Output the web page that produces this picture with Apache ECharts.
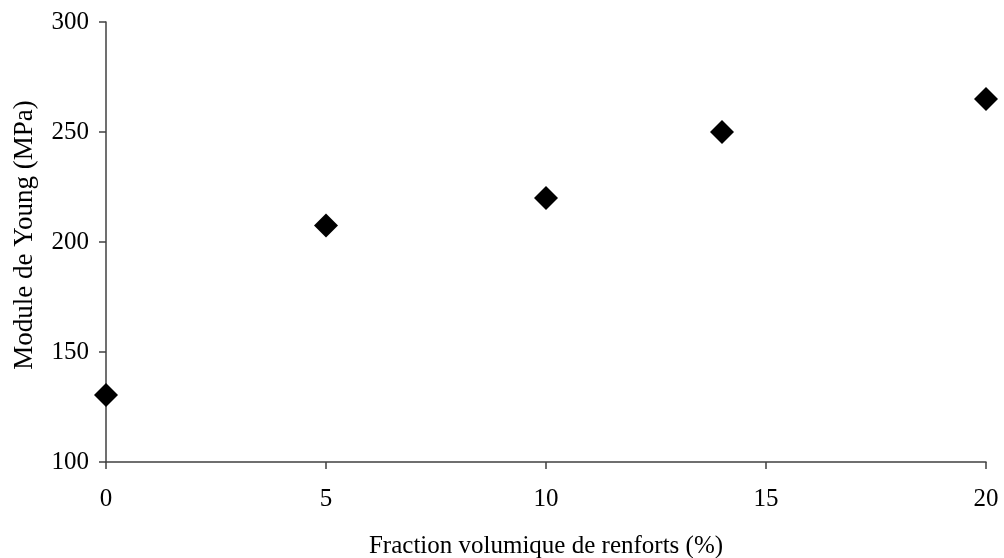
<!DOCTYPE html>
<html>
<head>
<meta charset="utf-8">
<script src="https://cdn.jsdelivr.net/npm/echarts@6/dist/echarts.min.js"></script>
<style>
html,body{margin:0;padding:0;background:#fff;}
#c{width:1004px;height:558px;}
</style>
</head>
<body>
<div id="c"></div>
<script>
const fractions = [0, 5, 10, 14, 20];
const youngModulus = [130.5, 207.5, 220, 250, 265];
const xTitle = 'Fraction volumique de renforts (%)';
const yTitle = 'Module de Young (MPa)';

const font = 'Liberation Serif';
const chart = echarts.init(document.getElementById('c'));
chart.setOption({
  animation: false,
  backgroundColor: '#ffffff',
  grid: {left: 106, right: 18, top: 22, bottom: 96, containLabel: false, outerBoundsMode: 'none'},
  xAxis: {
    type: 'value', min: 0, max: 20, interval: 5,
    name: xTitle, nameLocation: 'middle', nameGap: 72,
    nameTextStyle: {fontFamily: font, fontSize: 25, color: '#000'},
    axisLine: {lineStyle: {color: '#404040', width: 1.5}},
    axisTick: {show: true, inside: false, length: 7, lineStyle: {color: '#404040', width: 1.5}},
    axisLabel: {fontFamily: font, fontSize: 25, color: '#000', margin: 25},
    splitLine: {show: false}
  },
  yAxis: {
    type: 'value', min: 100, max: 300, interval: 50,
    name: yTitle, nameLocation: 'middle', nameGap: 68,
    nameTextStyle: {fontFamily: font, fontSize: 27, color: '#000', padding: [0, 0, 0, 14]},
    axisLine: {show: true, lineStyle: {color: '#404040', width: 1.5}},
    axisTick: {show: true, inside: false, length: 7, lineStyle: {color: '#404040', width: 1.5}},
    axisLabel: {fontFamily: font, fontSize: 25, color: '#000', margin: 17},
    splitLine: {show: false}
  },
  series: [{
    type: 'scatter',
    data: fractions.map((x, i) => [x, youngModulus[i]]),
    symbol: 'diamond',
    symbolSize: 24,
    itemStyle: {color: '#000000', opacity: 1},
    clip: false
  }]
});
</script>
</body>
</html>
